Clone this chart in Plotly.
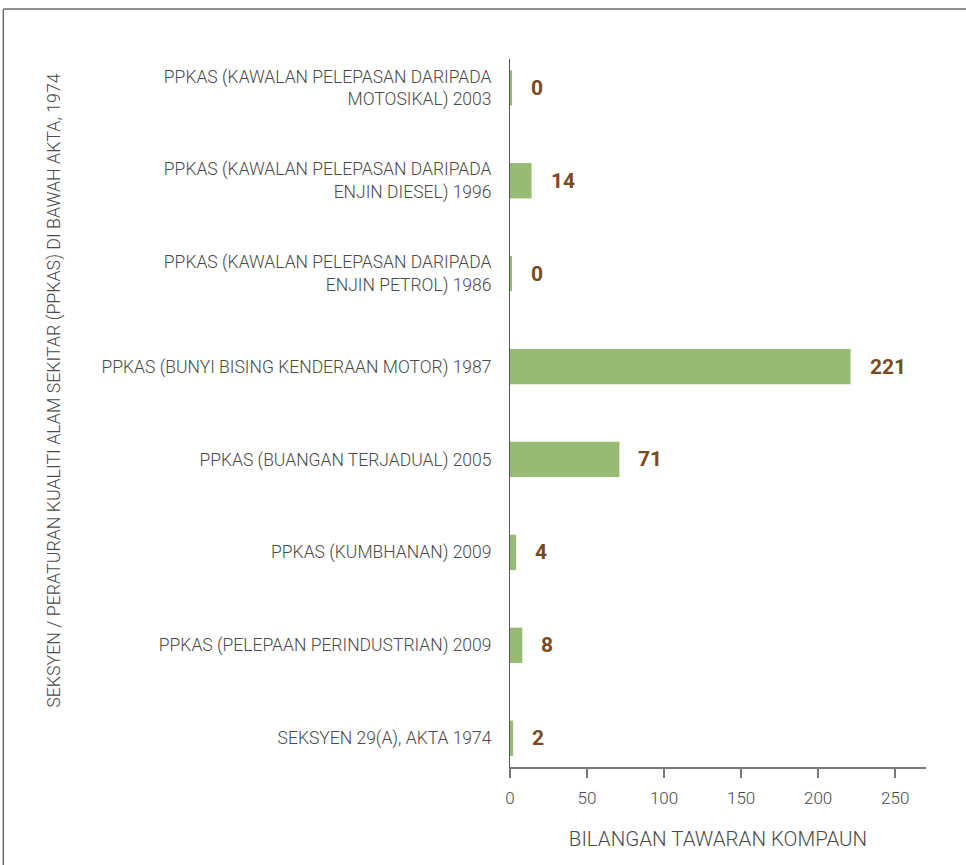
import plotly.graph_objects as go

categories = [
    "SEKSYEN 29(A), AKTA 1974",
    "PPKAS (PELEPAAN PERINDUSTRIAN) 2009",
    "PPKAS (KUMBHANAN) 2009",
    "PPKAS (BUANGAN TERJADUAL) 2005",
    "PPKAS (BUNYI BISING KENDERAAN MOTOR) 1987",
    "PPKAS (KAWALAN PELEPASAN DARIPADA<br>ENJIN PETROL) 1986",
    "PPKAS (KAWALAN PELEPASAN DARIPADA<br>ENJIN DIESEL) 1996",
    "PPKAS (KAWALAN PELEPASAN DARIPADA<br>MOTOSIKAL) 2003",
]
values = [2, 8, 4, 71, 221, 0, 14, 0]
x_ticks = [0, 50, 100, 150, 200, 250]
x_title = "BILANGAN TAWARAN KOMPAUN"
y_title = "SEKSYEN / PERATURAN KUALITI ALAM SEKITAR (PPKAS) DI BAWAH AKTA, 1974"

BAR = "#97bb72"
BROWN = "#7a4a22"
GREY = "#4a4a4a"
FONT = "Roboto"

# small minimum width so zero bars show the thin sliver seen in the reference
display_vals = [max(v, 1.3) for v in values]

fig = go.Figure(go.Bar(
    y=list(range(len(categories))),
    x=display_vals,
    orientation="h",
    marker=dict(color=BAR, line=dict(width=0)),
    width=0.38,
    hoverinfo="skip",
))

for i, v in enumerate(values):
    fig.add_annotation(
        x=display_vals[i], y=i, text=f"<b>{v}</b>", showarrow=False,
        xanchor="left", yanchor="middle", xshift=17,
        font=dict(family=FONT, size=21, color=BROWN),
    )

fig.add_annotation(
    xref="paper", yref="paper", x=-1.095, y=0.532, text=y_title, textangle=-90,
    showarrow=False, xanchor="center", yanchor="middle",
    font=dict(family=FONT, size=17.8, color=GREY, weight=300),
)

# frame around the chart
fig.add_shape(type="line", xref="paper", yref="paper",
              x0=-1.218, x1=1.2, y0=1.0706, y1=1.0706,
              line=dict(color="#6a6a6a", width=1.5))
fig.add_shape(type="line", xref="paper", yref="paper",
              x0=-1.218, x1=-1.218, y0=-0.2, y1=1.0706,
              line=dict(color="#6a6a6a", width=1.5))

fig.update_layout(
    width=966, height=865,
    margin=dict(l=510, r=40, t=59, b=98),
    paper_bgcolor="white", plot_bgcolor="white",
    showlegend=False,
    font=dict(family=FONT, color=GREY),
    xaxis=dict(
        range=[0, 270], tickvals=x_ticks, ticktext=[str(t) for t in x_ticks],
        showgrid=False, zeroline=False,
        showline=True, linecolor="#777777", linewidth=1.5,
        ticks="outside", ticklen=9, tickcolor="#777777", tickwidth=1.5,
        ticklabelstandoff=6,
        tickfont=dict(family=FONT, size=17, color=GREY, weight=300),
        title=dict(text=x_title, font=dict(family=FONT, size=20.5, color=GREY, weight=300), standoff=24),
    ),
    yaxis=dict(
        range=[-0.31, 7.31], tickvals=list(range(len(categories))), ticktext=categories,
        showgrid=False, zeroline=False,
        showline=True, linecolor="#555555", linewidth=1,
        ticks="", ticklabelstandoff=14,
        tickfont=dict(family=FONT, size=17.5, color=GREY, weight=300),
    ),
)

fig.write_html(
    "out.html",
    config={"displayModeBar": False},
    post_script="document.body.style.margin='0';document.body.style.overflow='hidden';",
)
